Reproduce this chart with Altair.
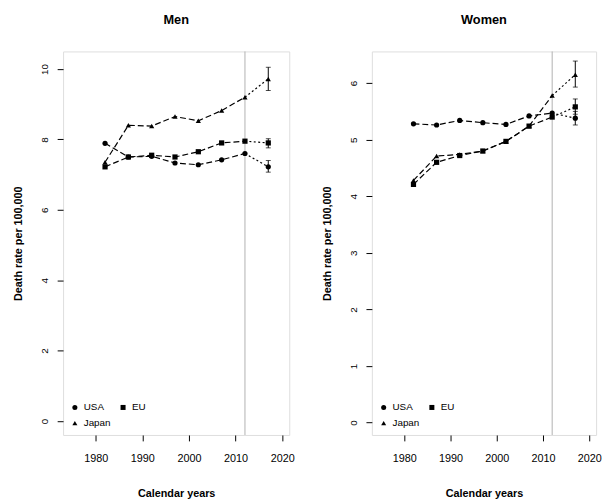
import altair as alt
import pandas as pd

# ---- data ----
years = [1982, 1987, 1992, 1997, 2002, 2007, 2012, 2017]
countries = ["USA", "EU", "Japan"]
legend_order = ["USA", "Japan", "EU"]          # column-major legend -> USA, EU / Japan
legend_shapes = ["circle", "triangle-up", "square"]

men_usa = [7.89, 7.50, 7.52, 7.33, 7.28, 7.42, 7.60, 7.22]
men_eu = [7.22, 7.50, 7.55, 7.50, 7.65, 7.90, 7.95, 7.90]
men_japan = [7.35, 8.40, 8.38, 8.65, 8.53, 8.82, 9.20, 9.72]
men_err_lo = [7.07, 7.76, 9.39]   # 2017 prediction intervals (USA, EU, Japan)
men_err_hi = [7.40, 8.02, 10.05]

women_usa = [5.28, 5.26, 5.34, 5.30, 5.27, 5.42, 5.47, 5.38]
women_eu = [4.21, 4.60, 4.72, 4.80, 4.97, 5.24, 5.40, 5.58]
women_japan = [4.28, 4.71, 4.74, 4.80, 4.97, 5.24, 5.78, 6.15]
women_err_lo = [5.26, 5.45, 5.93]
women_err_hi = [5.50, 5.72, 6.39]

pred_year = 2017
last_obs_year = 2012
x_ticks = [1980, 1990, 2000, 2010, 2020]
men_y_ticks = [0, 2, 4, 6, 8, 10]
women_y_ticks = [0, 1, 2, 3, 4, 5, 6]

FONT = "Liberation Sans"


def make_panel(title, series, lo, hi, ydom, yticks, width):
    rows = []
    for c, vals in zip(countries, series):
        for yr, v in zip(years, vals):
            rows.append({"year": yr, "rate": v, "country": c})
    df = pd.DataFrame(rows)
    obs = df[df["year"] <= last_obs_year]
    pred = df[df["year"] >= last_obs_year]
    err = pd.DataFrame({"year": [pred_year] * 3, "lo": lo, "hi": hi, "country": countries})

    xscale = alt.Scale(domain=[1973, 2021.5], nice=False, zero=False)
    yscale = alt.Scale(domain=ydom, nice=False, zero=False)
    xaxis = alt.Axis(values=x_ticks, format="d", title="Calendar years", grid=False,
                     domain=False, tickSize=6, tickColor="black", labelPadding=12,
                     labelFontSize=11, labelFont=FONT, labelColor="black",
                     titleFont=FONT, titleFontSize=11, titleFontWeight="bold",
                     titleColor="black", titlePadding=27, minExtent=27, maxExtent=27)
    yaxis = alt.Axis(values=yticks, format="d", title="Death rate per 100,000", grid=False,
                     domain=False, tickSize=6, tickColor="black", labelPadding=8,
                     labelAngle=270, labelAlign="center", labelBaseline="bottom",
                     labelFontSize=10, labelFont=FONT, labelColor="black",
                     titleFont=FONT, titleFontSize=11, titleFontWeight="bold",
                     titleColor="black", titlePadding=20, minExtent=20, maxExtent=20)

    X = alt.X("year:Q", scale=xscale, axis=xaxis)
    Y = alt.Y("rate:Q", scale=yscale, axis=yaxis)

    vline = alt.Chart(pd.DataFrame({"year": [last_obs_year]})).mark_rule(
        color="#b0b0b0", strokeWidth=1).encode(x=alt.X("year:Q", scale=xscale, axis=xaxis))

    obs_lines = alt.Chart(obs).mark_line(color="black", strokeWidth=1.2, strokeDash=[6, 3]).encode(
        x=X, y=Y, detail="country:N")
    pred_lines = alt.Chart(pred).mark_line(color="black", strokeWidth=1.2, strokeDash=[2, 2.5]).encode(
        x=X, y=Y, detail="country:N")

    err_rule = alt.Chart(err).mark_rule(color="black", strokeWidth=1).encode(
        x=X, y=alt.Y("lo:Q", scale=yscale, axis=yaxis), y2="hi:Q")
    cap_lo = alt.Chart(err).mark_tick(color="black", orient="horizontal", size=5, thickness=1).encode(
        x=X, y=alt.Y("lo:Q", scale=yscale, axis=yaxis))
    cap_hi = alt.Chart(err).mark_tick(color="black", orient="horizontal", size=5, thickness=1).encode(
        x=X, y=alt.Y("hi:Q", scale=yscale, axis=yaxis))

    points = alt.Chart(df).mark_point(filled=True, color="black", size=28, opacity=1).encode(
        x=X, y=Y,
        shape=alt.Shape("country:N",
                        scale=alt.Scale(domain=legend_order, range=legend_shapes),
                        legend=alt.Legend(orient="bottom-left", columns=2, title=None, offset=7,
                                          padding=0, rowPadding=6, columnPadding=7,
                                          labelFontSize=10, labelFont=FONT, labelColor="black",
                                          symbolSize=26, labelOffset=4, symbolFillColor="black",
                                          symbolStrokeWidth=0)))

    return alt.layer(vline, obs_lines, pred_lines, err_rule, cap_lo, cap_hi, points).properties(
        width=width, height=390,
        title=alt.Title(title, fontSize=13, fontWeight="bold", font=FONT, color="black", offset=24))


men = make_panel("Men", [men_usa, men_eu, men_japan], men_err_lo, men_err_hi,
                 [-0.4, 10.5], men_y_ticks, 230)
women = make_panel("Women", [women_usa, women_eu, women_japan], women_err_lo, women_err_hi,
                   [-0.22, 6.56], women_y_ticks, 228)

chart = alt.hconcat(men, women, spacing=84, bounds="flush").resolve_scale(
    shape="independent").resolve_legend(shape="independent").properties(
    padding={"left": 4, "top": 2, "right": 0, "bottom": 0}
).configure_view(stroke="#333333", strokeWidth=1.2).configure(background="white")

chart.save("out.html", embed_options={"renderer": "svg", "actions": False})
